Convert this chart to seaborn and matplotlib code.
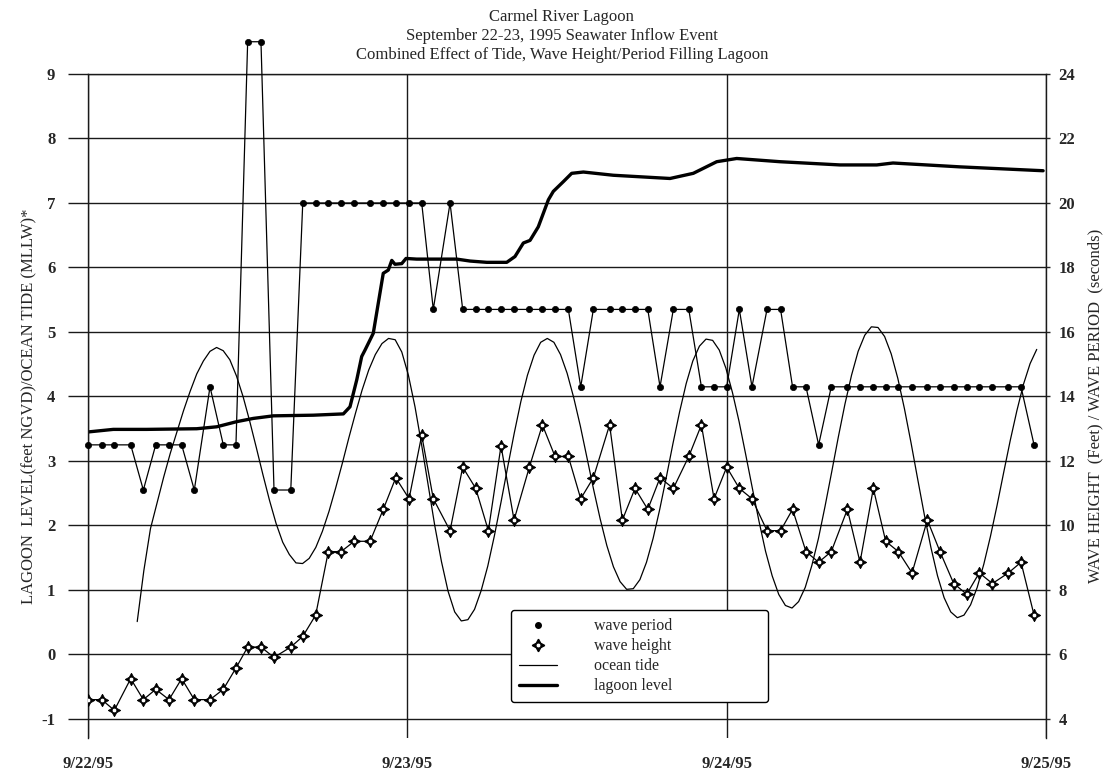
"""Carmel River Lagoon, September 22-23 1995 seawater inflow event.

Tide, lagoon level, wave height and wave period on two y axes.
"""
import matplotlib
matplotlib.use('Agg')
import matplotlib.pyplot as plt
from matplotlib.lines import Line2D
from matplotlib.legend_handler import HandlerTuple
import numpy as np
import seaborn as sns

# Hours after 9/22/95 00:00 for the wave readings.
wave_hours = [0.0, 1.03, 1.98, 3.21, 4.16, 5.09, 6.09, 7.04, 7.99, 9.17,
              10.17, 11.12, 12.0, 13.0, 13.98, 15.24, 16.14, 17.11, 18.06, 19.02,
              20.01, 21.2, 22.19, 23.13, 24.13, 25.08, 25.95, 27.21, 28.16, 29.14,
              30.09, 31.04, 32.02, 33.17, 34.15, 35.1, 36.1, 37.03, 37.98, 39.2,
              40.16, 41.11, 42.07, 42.99, 43.99, 45.15, 46.1, 47.05, 48.0, 48.95,
              49.9, 51.03, 52.05, 52.95, 53.96, 54.91, 55.86, 57.07, 58.02, 59.02,
              59.95, 60.9, 61.93, 63.08, 64.03, 65.06, 66.04, 66.98, 67.97, 69.17,
              70.12, 71.1]
# Wave period (seconds)
wave_period = [12.5, 12.5, 12.5, 12.5, 11.1, 12.5, 12.5, 12.5, 11.1, 14.3,
               12.5, 12.5, 25.0, 25.0, 11.1, 11.1, 20.0, 20.0, 20.0, 20.0,
               20.0, 20.0, 20.0, 20.0, 20.0, 20.0, 16.7, 20.0, 16.7, 16.7,
               16.7, 16.7, 16.7, 16.7, 16.7, 16.7, 16.7, 14.3, 16.7, 16.7,
               16.7, 16.7, 16.7, 14.3, 16.7, 16.7, 14.3, 14.3, 14.3, 16.7,
               14.3, 16.7, 16.7, 14.3, 14.3, 12.5, 14.3, 14.3, 14.3, 14.3,
               14.3, 14.3, 14.3, 14.3, 14.3, 14.3, 14.3, 14.3, 14.3, 14.3,
               14.3, 12.5]
# Wave height (feet)
wave_height = [4.6, 4.6, 4.27, 5.25, 4.6, 4.92, 4.6, 5.25, 4.6, 4.6,
               4.92, 5.58, 6.23, 6.23, 5.91, 6.23, 6.56, 7.22, 9.19, 9.19,
               9.51, 9.51, 10.5, 11.48, 10.83, 12.8, 10.83, 9.84, 11.81, 11.15,
               9.84, 12.47, 10.17, 11.81, 13.12, 12.14, 12.14, 10.83, 11.48, 13.12,
               10.17, 11.15, 10.5, 11.48, 11.15, 12.14, 13.12, 10.83, 11.81, 11.15,
               10.83, 9.84, 9.84, 10.5, 9.19, 8.86, 9.19, 10.5, 8.86, 11.15,
               9.51, 9.19, 8.53, 10.17, 9.19, 8.2, 7.87, 8.53, 8.2, 8.53,
               8.86, 7.22]

# Ocean tide (feet MLLW), half-hourly from 3.7 h to 71.3 h.
tide_start, tide_end = 3.7, 71.3
tide_level = [0.51, 1.30, 1.95, 2.35, 2.75, 3.12, 3.45, 3.78, 4.08, 4.35,
              4.55, 4.70, 4.76, 4.71, 4.57, 4.32, 4.00, 3.62, 3.21, 2.79,
              2.39, 2.03, 1.74, 1.55, 1.42, 1.41, 1.49, 1.66, 1.91, 2.22,
              2.58, 2.96, 3.36, 3.74, 4.10, 4.41, 4.65, 4.82, 4.90, 4.88,
              4.69, 4.33, 3.84, 3.25, 2.62, 1.99, 1.44, 0.98, 0.66, 0.52,
              0.54, 0.70, 0.99, 1.37, 1.84, 2.36, 2.90, 3.43, 3.92, 4.33,
              4.64, 4.84, 4.90, 4.84, 4.65, 4.36, 3.98, 3.54, 3.05, 2.56,
              2.10, 1.69, 1.36, 1.13, 1.01, 1.02, 1.16, 1.43, 1.80, 2.25,
              2.75, 3.27, 3.76, 4.20, 4.55, 4.78, 4.89, 4.87, 4.72, 4.44,
              4.06, 3.61, 3.10, 2.58, 2.07, 1.60, 1.22, 0.93, 0.76, 0.72,
              0.82, 1.04, 1.38, 1.80, 2.30, 2.83, 3.37, 3.88, 4.33, 4.70,
              4.95, 5.08, 5.07, 4.93, 4.66, 4.28, 3.81, 3.28, 2.72, 2.17,
              1.66, 1.22, 0.88, 0.66, 0.57, 0.61, 0.77, 1.04, 1.40, 1.83,
              2.31, 2.82, 3.32, 3.78, 4.19, 4.51, 4.73]

# Lagoon level (feet NGVD)
lagoon_hours = [0.0, 1.9, 4.41, 8.17, 9.67, 11.18, 12.42, 13.93, 16.93, 19.19,
                19.69, 20.2, 20.57, 20.82, 21.44, 22.19, 22.57, 22.83, 23.07, 23.58,
                23.9, 24.7, 27.71, 28.71, 29.97, 31.47, 32.09, 32.72, 33.22, 33.84,
                34.6, 34.97, 35.72, 36.35, 37.23, 39.48, 43.74, 45.49, 47.25, 48.75,
                52.01, 56.52, 59.28, 60.5, 65.54, 71.78]
lagoon_level = [3.45, 3.49, 3.49, 3.50, 3.53, 3.61, 3.66, 3.70, 3.71, 3.73,
                3.84, 4.26, 4.62, 4.72, 4.98, 5.91, 5.96, 6.11, 6.05, 6.06,
                6.14, 6.13, 6.13, 6.10, 6.08, 6.08, 6.17, 6.38, 6.42, 6.63,
                7.05, 7.18, 7.33, 7.46, 7.48, 7.43, 7.38, 7.46, 7.64, 7.69,
                7.64, 7.59, 7.59, 7.62, 7.56, 7.50]

day_labels = ['9/22/95', '9/23/95', '9/24/95', '9/25/95']

# Convert everything to days so the x axis runs 0..3.
wave_days = np.array(wave_hours) / 24
tide_days = np.linspace(tide_start, tide_end, len(tide_level)) / 24
lagoon_days = np.array(lagoon_hours) / 24

sns.set_style('white')
plt.rcParams['font.family'] = ['Liberation Serif', 'DejaVu Serif']
plt.rcParams['axes.unicode_minus'] = False

fig = plt.figure(figsize=(11.04, 7.74), dpi=100)
ax = fig.add_axes([0.0797, 0.0465, 0.8678, 0.8579])
ax2 = ax.twinx()

grid_color = '#1a1a1a'

# Left axis: tide and lagoon level.
sns.lineplot(x=tide_days, y=tide_level, ax=ax, color='black', lw=0.9,
             sort=False, estimator=None)
sns.lineplot(x=lagoon_days, y=lagoon_level, ax=ax, color='black', lw=2.4,
             sort=False, estimator=None)

# Right axis: wave period and wave height.
sns.lineplot(x=wave_days, y=wave_period, ax=ax2, color='black', lw=0.9,
             marker='o', ms=4.5, mec='black', mew=0.5, clip_on=False,
             sort=False, estimator=None)
sns.lineplot(x=wave_days, y=wave_height, ax=ax2, color='black', lw=0.9,
             marker=(4, 1, 0), ms=9, mec='black', mew=0.6,
             sort=False, estimator=None)
sns.scatterplot(x=wave_days, y=wave_height, ax=ax2, color='white', s=11,
                edgecolor='black', linewidth=0.5, zorder=5)

# Axes limits and ticks
ax.set_xlim(0, 3)
ax.set_xticks(range(4))
ax.set_xticklabels(day_labels)
ax.set_ylim(-1.295, 9)
ax.set_yticks(range(-1, 10))
ax2.set_ylim(2 * -1.295 + 6, 24)
ax2.set_yticks(range(4, 25, 2))

ax.grid(True, color=grid_color, lw=1.0)
ax.tick_params(axis='x', length=0, pad=13, labelsize=12)
ax.tick_params(axis='y', length=14.5, width=1.0, color=grid_color, pad=9,
               direction='out', labelsize=12, left=True)
ax2.tick_params(axis='y', length=3, width=1.0, pad=6, direction='out',
                labelsize=12, right=True)
for t in ax.get_xticklabels() + ax.get_yticklabels() + ax2.get_yticklabels():
    t.set_fontweight('bold')

for a in (ax, ax2):
    for side in a.spines.values():
        side.set_color(grid_color)
        side.set_linewidth(1.0)
    a.spines['bottom'].set_visible(False)
ax.spines['right'].set_visible(False)
ax2.spines['left'].set_visible(False)
ax2.spines['top'].set_visible(False)

ax.set_ylabel('LAGOON  LEVEL(feet NGVD)/OCEAN TIDE (MLLW)*', fontsize=12,
              labelpad=3)
ax2.set_ylabel('WAVE HEIGHT  (Feet) / WAVE PERIOD  (seconds)', fontsize=12,
               labelpad=9)

fig.text(0.509, 0.988,
         "Carmel River Lagoon\n"
         "September 22-23, 1995 Seawater Inflow Event\n"
         "Combined Effect of Tide, Wave Height/Period Filling Lagoon",
         ha='center', va='top', fontsize=12, linespacing=1.22)

# Legend
h_period = Line2D([], [], ls='none', marker='o', color='black', ms=4)
h_star = Line2D([], [], ls='none', marker=(4, 1, 0), color='black', ms=9)
h_dot = Line2D([], [], ls='none', marker='o', mfc='white', mec='black',
               mew=0.5, ms=3.4)
h_tide = Line2D([], [], color='black', lw=0.9)
h_lagoon = Line2D([], [], color='black', lw=2.4)
leg = ax2.legend([h_period, (h_star, h_dot), h_tide, h_lagoon],
                 ['wave period', 'wave height', 'ocean tide', 'lagoon level'],
                 handler_map={tuple: HandlerTuple(ndivide=1)},
                 loc='lower left', bbox_to_anchor=(0.4415, 0.054, 0.268, 0.134),
                 mode='expand', borderaxespad=0, fontsize=11.5,
                 labelspacing=0.25, handlelength=2.4, handletextpad=2.3,
                 borderpad=0.5, fancybox=True, framealpha=1)
leg.get_frame().set_edgecolor('black')
leg.get_frame().set_linewidth(1.0)

fig.savefig('out.png', dpi=100)
